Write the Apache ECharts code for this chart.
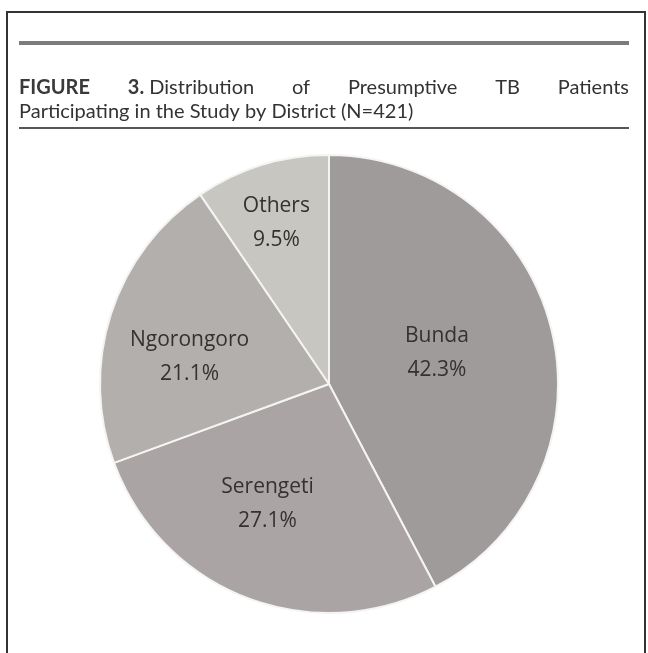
<!DOCTYPE html>
<html>
<head>
<meta charset="utf-8">
<script src="https://cdn.jsdelivr.net/npm/echarts@6/dist/echarts.min.js"></script>
<style>
html,body{margin:0;padding:0;background:#fff;}
#c{width:648px;height:653px;}
</style>
</head>
<body>
<div id="c"></div>
<script>
// ---- data ----
var districts = ['Bunda', 'Serengeti', 'Ngorongoro', 'Others'];
var percents = [42.3, 27.1, 21.1, 9.5];
var titleLabel = ['FIGURE', '3.'];
var titleLine1 = ['Distribution', 'of', 'Presumptive', 'TB', 'Patients'];
var titleLine2 = 'Participating in the Study by District (N=421)';

// ---- styles ----
var sliceColors = ['#a09b9b', '#aaa5a4', '#b3afad', '#c8c6c1'];
var labelRadiusFrac = [0.49, 0.59, 0.62, 0.74];
var labelAngleShiftDeg = [-2, 6, -7, -1];
var PIE_CX = 329, PIE_CY = 384, PIE_R = 229;

var chart = echarts.init(document.getElementById('c'), null, {renderer: 'canvas'});

// justified title line 1: units = [FIGURE], [3. Distribution], of, Presumptive, TB, Patients
var titleFont = '"Lato", "Open Sans", sans-serif';
var fs = 20;
var cv = document.createElement('canvas').getContext('2d');
function mw(t, b) { cv.font = (b ? 'bold ' : '') + fs + 'px Lato'; return cv.measureText(t).width; }
var units = [];
units.push({parts: [{t: titleLabel[0], b: true}]});
units.push({parts: [{t: titleLabel[1], b: true}, {t: ' ' + titleLine1[0], b: false}]});
for (var k = 1; k < titleLine1.length; k++) units.push({parts: [{t: titleLine1[k], b: false}]});
var total = 0;
units.forEach(function (u) {
  u.w = 0;
  u.parts.forEach(function (p) { p.w = mw(p.t, p.b); u.w += p.w; });
  total += u.w;
});
var L = 19, R = 629;
var gap = (R - L - total) / (units.length - 1);
var graphics = [];
var xx = L;
units.forEach(function (u) {
  var px = xx;
  u.parts.forEach(function (p) {
    graphics.push({
      type: 'text', left: px, top: 78,
      style: {text: p.t, font: (p.b ? 'bold ' : '') + fs + 'px ' + titleFont, fill: p.b ? '#3a3a3a' : '#333'}
    });
    px += p.w;
  });
  xx += u.w + gap;
});
graphics.push({
  type: 'text', left: L, top: 102,
  style: {text: titleLine2, font: fs + 'px ' + titleFont, fill: '#333'}
});
// frame and rules
graphics.push({type: 'rect', shape: {x: 7, y: 12, width: 638, height: 700}, style: {fill: 'none', stroke: '#333', lineWidth: 2}, z: -1});
graphics.push({type: 'rect', shape: {x: 19, y: 41, width: 610, height: 4}, style: {fill: '#7d7b7c'}});
graphics.push({type: 'rect', shape: {x: 19, y: 127, width: 610, height: 2}, style: {fill: '#5a5558'}});

function labelPos(idx) {
  var cx = PIE_CX, cy = PIE_CY, r = PIE_R, mid;
  try {
    var lay = chart.getModel().getSeriesByIndex(0).getData().getItemLayout(idx);
    cx = lay.cx; cy = lay.cy; r = lay.r;
    mid = (lay.startAngle + lay.endAngle) / 2;
  } catch (e) {
    var sum = percents.reduce(function (a, b) { return a + b; }, 0);
    var acc = 0;
    for (var i = 0; i < idx; i++) acc += percents[i];
    mid = ((acc + percents[idx] / 2) / sum) * 2 * Math.PI - Math.PI / 2;
  }
  var a = mid + labelAngleShiftDeg[idx] * Math.PI / 180;
  var rr = r * labelRadiusFrac[idx];
  return {x: cx + rr * Math.cos(a), y: cy + rr * Math.sin(a)};
}

var option = {
  backgroundColor: '#fff',
  animation: false,
  graphic: graphics,
  series: [{
    type: 'pie',
    center: [PIE_CX, PIE_CY],
    radius: PIE_R,
    startAngle: 90,
    clockwise: true,
    avoidLabelOverlap: false,
    emphasis: {disabled: true},
    data: districts.map(function (d, i) {
      return {name: d, value: percents[i], itemStyle: {color: sliceColors[i]}};
    }),
    itemStyle: {borderColor: '#f4f4f2', borderWidth: 2},
    label: {
      show: true,
      position: 'inside',
      formatter: function (p) { return p.name + '\n' + percents[p.dataIndex].toFixed(1) + '%'; },
      fontFamily: '"Open Sans", sans-serif',
      fontSize: 21,
      lineHeight: 34,
      color: '#333131'
    },
    labelLine: {show: false},
    labelLayout: function (params) {
      var p = labelPos(params.dataIndex);
      return {x: p.x, y: p.y, align: 'center', verticalAlign: 'middle'};
    }
  }]
};
chart.setOption(option);
</script>
</body>
</html>
